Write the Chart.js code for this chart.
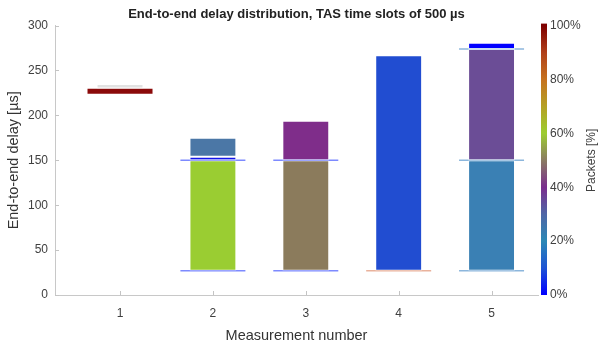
<!DOCTYPE html>
<html lang="en">
<head>
  <meta charset="UTF-8" />
  <title>End-to-end delay distribution</title>
  <style>
    html, body { margin: 0; padding: 0; background: #fff; }
  </style>
</head>
<body>
<canvas id="delay-chart" width="612" height="346"></canvas>
<script src="https://cdn.jsdelivr.net/npm/chart.js"></script>
<script type="text/javascript">
  // Measurements on the x axis
  const measurements = [1, 2, 3, 4, 5];

  // Delay ranges [from, to] in µs for each colored layer of a bar
  const layerBottom = [[230, 235], [27, 150], [27, 150], [27, 267], [27, 150]];
  const layerMiddle = [null, [150, 154], [150, 194], null, [150, 274]];
  const layerTop = [null, [154, 175], null, null, [274, 281]];

  // Horizontal marker levels in µs
  const markerLow = [227, 27, 27, 27, 27];
  const markerMid = [null, 150, 150, null, 150];
  const markerHigh = [null, null, null, null, 274];

  // Tick labels
  const delayTicks = [0, 50, 100, 150, 200, 250, 300];
  const packetTicks = [0, 20, 40, 60, 80, 100];

  // Colors taken from the colorbar
  const bottomColors = ['#e2e2e2', '#9acd32', '#8b7b5c', '#214dd1', '#3a80b4'];
  const middleColors = [null, '#1414e8', '#7f2d8a', null, '#6b4d96'];
  const topColors = [null, '#4b77a6', null, null, '#0000ff'];
  const markerColors = ['#8b0a0a', '#7d8aff', '#7d8aff', '#e9b29c', '#8cb6dc'];
  const markerWidths = [5, 1.5, 1.5, 1.5, 1.5];
  const colormap = [
    [0, '#0000ff'], [0.1, '#1e54d4'], [0.2, '#2b88b5'], [0.3, '#4f66a6'],
    [0.4, '#7a2e8e'], [0.5, '#8a7b62'], [0.6, '#9ccd30'], [0.7, '#b4a024'],
    [0.8, '#c6721f'], [0.9, '#b0401a'], [1, '#7e0000']
  ];

  Chart.defaults.font.family = '"Liberation Sans", Arial, sans-serif';
  Chart.defaults.color = '#404040';

  function barPoints(ranges, colors) {
    return ranges
      .map((r, i) => r ? {x: measurements[i], y: r, color: colors[i]} : null)
      .filter(p => p);
  }

  function markerPoints(levels) {
    return levels
      .map((v, i) => v !== null ? {x: measurements[i], y: v, color: markerColors[i], width: markerWidths[i]} : null)
      .filter(p => p);
  }

  function barDataset(ranges, colors) {
    return {
      type: 'bar',
      data: barPoints(ranges, colors),
      backgroundColor: ctx => ctx.raw ? ctx.raw.color : 'transparent',
      borderColor: 'rgba(255,255,255,0.4)',
      borderWidth: 1,
      borderSkipped: false,
      grouped: false,
      categoryPercentage: 1,
      barPercentage: 0.505,
      order: 0
    };
  }

  function markerDataset(levels) {
    return {
      type: 'scatter',
      data: markerPoints(levels),
      pointStyle: 'line',
      pointRadius: 32.5,
      pointHoverRadius: 32.5,
      pointBorderColor: ctx => ctx.raw ? ctx.raw.color : 'transparent',
      pointBorderWidth: ctx => ctx.raw ? ctx.raw.width : 1,
      clip: false,
      order: 1
    };
  }

  // fixed axis sizes, no extra label padding
  function fixSize(w, h) {
    return scale => {
      if (w) scale.width = w;
      if (h) scale.height = h;
      scale.paddingTop = 0;
      scale.paddingBottom = 0;
      scale.paddingLeft = 0;
      scale.paddingRight = 0;
    };
  }

  // Colorbar, inward tick marks and colorbar label
  const colorbar = {
    id: 'colorbar',
    afterDraw(chart) {
      const ctx = chart.ctx;
      const area = chart.chartArea;
      const cb = chart.scales.yc;
      const top = cb.getPixelForValue(100);
      const bottom = cb.getPixelForValue(0);
      const x = area.right + 3;
      const grad = ctx.createLinearGradient(0, bottom, 0, top);
      colormap.forEach(([p, c]) => grad.addColorStop(p, c));
      ctx.save();
      ctx.fillStyle = grad;
      ctx.fillRect(x, top - 2, 6, bottom - top + 2);

      ctx.strokeStyle = '#c4c4c4';
      ctx.lineWidth = 1;
      ctx.beginPath();
      chart.scales.x.ticks.forEach(t => {
        const px = Math.round(chart.scales.x.getPixelForValue(t.value)) + 0.5;
        ctx.moveTo(px, area.bottom);
        ctx.lineTo(px, area.bottom - 4);
      });
      chart.scales.y.ticks.forEach(t => {
        const py = Math.round(chart.scales.y.getPixelForValue(t.value)) + 0.5;
        ctx.moveTo(area.left, py);
        ctx.lineTo(area.left + 4, py);
      });
      ctx.stroke();

      ctx.translate(592, (top + bottom) / 2);
      ctx.rotate(-Math.PI / 2);
      ctx.font = '12px "Liberation Sans", Arial, sans-serif';
      ctx.fillStyle = '#404040';
      ctx.textAlign = 'center';
      ctx.textBaseline = 'middle';
      ctx.fillText('Packets [%]', 0, 0);
      ctx.restore();
    }
  };

  new Chart(document.getElementById('delay-chart'), {
    type: 'bar',
    data: {
      datasets: [
        barDataset(layerBottom, bottomColors),
        barDataset(layerMiddle, middleColors),
        barDataset(layerTop, topColors),
        markerDataset(markerLow),
        markerDataset(markerMid),
        markerDataset(markerHigh)
      ]
    },
    options: {
      responsive: false,
      animation: false,
      layout: {padding: 0, autoPadding: false},
      plugins: {
        legend: {display: false},
        tooltip: {enabled: false},
        title: {
          display: true,
          text: 'End-to-end delay distribution, TAS time slots of 500 µs',
          font: {size: 13, weight: 'bold'},
          color: '#222',
          padding: {top: 7, bottom: 3},
          fullSize: false
        }
      },
      scales: {
        x: {
          type: 'linear',
          offset: false,
          min: 0.3,
          max: 5.5,
          afterBuildTicks: scale => { scale.ticks = measurements.map(v => ({value: v})); },
          afterFit: fixSize(0, 51),
          ticks: {font: {size: 12}, padding: 11},
          grid: {drawOnChartArea: false, drawTicks: false, offset: false},
          border: {color: '#c8c8c8'},
          title: {display: true, text: 'Measurement number', font: {size: 14.5}, color: '#333', padding: {top: 1, bottom: 1}}
        },
        y: {
          min: 0,
          max: 300,
          afterBuildTicks: scale => { scale.ticks = delayTicks.map(v => ({value: v})); },
          afterFit: fixSize(55, 0),
          ticks: {font: {size: 12}, padding: 7},
          grid: {drawOnChartArea: false, drawTicks: false},
          border: {color: '#c8c8c8'},
          title: {display: true, text: 'End-to-end delay [µs]', font: {size: 14.5}, color: '#333', padding: {top: 5, bottom: 0}}
        },
        yc: {
          position: 'right',
          min: 0,
          max: 100,
          afterBuildTicks: scale => { scale.ticks = packetTicks.map(v => ({value: v})); },
          afterFit: fixSize(74, 0),
          ticks: {font: {size: 12}, padding: 12, callback: v => v + '%'},
          grid: {display: false, drawTicks: false},
          border: {display: false}
        }
      }
    },
    plugins: [colorbar]
  });
</script>
</body>
</html>
